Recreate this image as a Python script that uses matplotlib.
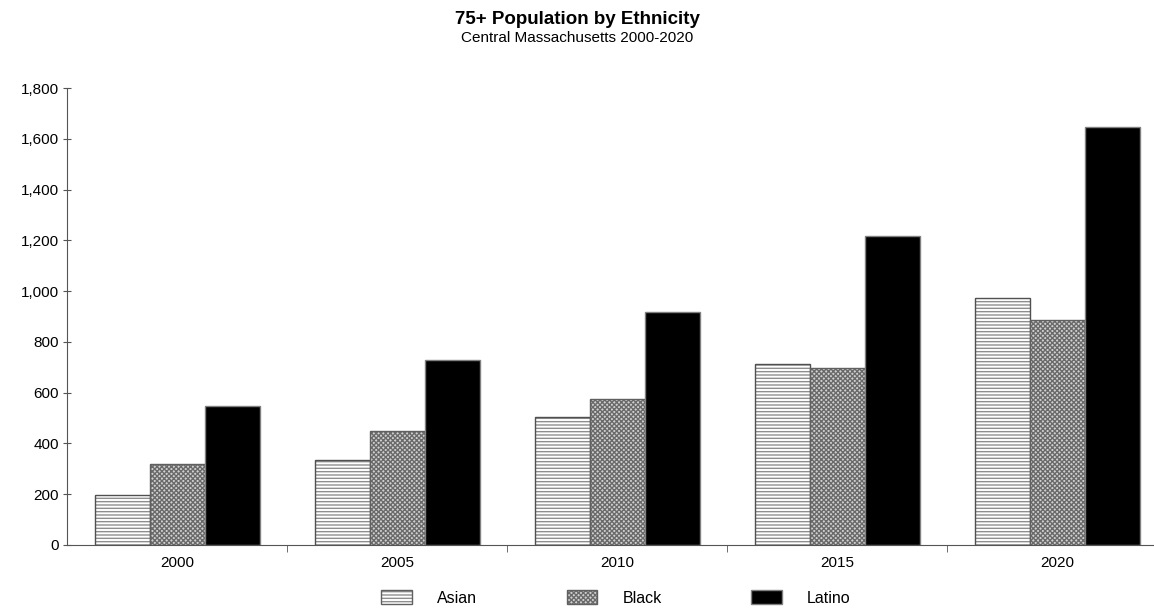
import matplotlib
matplotlib.use("Agg")
import matplotlib.pyplot as plt
from matplotlib.patches import Patch
import numpy as np

plt.rcParams['font.family'] = ['Liberation Sans', 'DejaVu Sans']
plt.rcParams['hatch.linewidth'] = 1.0

years = ['2000', '2005', '2010', '2015', '2020']
asian = [195, 335, 503, 712, 973]
black = [318, 449, 575, 697, 888]
latino = [547, 728, 918, 1218, 1648]

fig = plt.figure(figsize=(11.54, 6.11), dpi=100)
ax = fig.add_axes([67/1154, 66/611, 1087/1154, 457/611])

x = np.arange(len(years))
w = 0.25
# hatch colour follows edgecolor, so draw the fill first, then the outline
ax.bar(x - w, asian, w, color='white', edgecolor='#8e8e8e', hatch='-----', linewidth=0)
ax.bar(x - w, asian, w, fill=False, edgecolor='#505050', linewidth=1)
ax.bar(x, black, w, color='#d0d0d0', edgecolor='#6a6a6a', hatch='xxxxxxx', linewidth=0)
ax.bar(x, black, w, fill=False, edgecolor='#606060', linewidth=1)
ax.bar(x + w, latino, w, color='black', edgecolor='#808080', linewidth=1)

ax.set_xlim(-0.5, -0.5 + 1087/220)
ax.set_ylim(0, 1800)
ax.set_yticks(range(0, 1801, 200))
ax.set_yticklabels([f'{v:,}' for v in range(0, 1801, 200)], fontsize=11)
ax.set_xticks(x)
ax.set_xticklabels(years, fontsize=11)
ax.set_xticks(np.arange(0.5, 4.5, 1), minor=True)
ax.tick_params(axis='x', which='major', length=0, pad=8)
ax.tick_params(axis='x', which='minor', length=5, direction='out', color='#555555')
ax.tick_params(axis='y', length=6, direction='inout', color='#555555', pad=3)

for s in ['top', 'right']:
    ax.spines[s].set_visible(False)
for s in ['left', 'bottom']:
    ax.spines[s].set_color('#555555')

fig.text(0.5, 1 - 19/611, '75+ Population by Ethnicity', ha='center', va='center',
         fontsize=13.5, fontweight='bold')
fig.text(0.5, 1 - 38/611, 'Central Massachusetts 2000-2020', ha='center', va='center',
         fontsize=11)

outline = Patch(fill=False, edgecolor='#606060', linewidth=1)
handles = [
    (Patch(facecolor='white', edgecolor='#8e8e8e', hatch='-----', linewidth=0), outline),
    (Patch(facecolor='#d0d0d0', edgecolor='#6a6a6a', hatch='xxxxxxx', linewidth=0), outline),
    Patch(facecolor='black', edgecolor='#808080'),
]
fig.legend(handles, ['Asian', 'Black', 'Latino'], loc='center',
           bbox_to_anchor=(616/1154, 1 - 598/611), ncol=3, frameon=False,
           fontsize=11.5, handlelength=1.9, handleheight=1.0, columnspacing=5.6,
           handletextpad=1.6)

fig.savefig('out.png', dpi=100)
